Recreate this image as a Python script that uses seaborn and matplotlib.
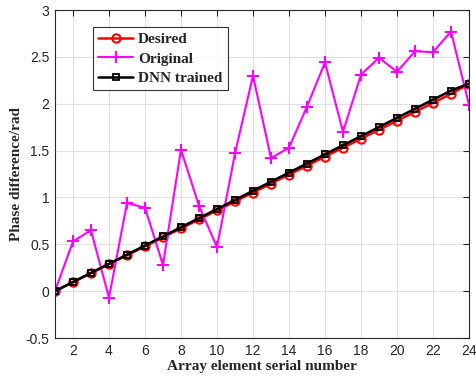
import matplotlib
matplotlib.use("Agg")
import matplotlib.pyplot as plt
import seaborn as sns
import numpy as np
import pandas as pd

elements = list(range(1, 25))
desired = [0.000, 0.096, 0.191, 0.287, 0.383, 0.478, 0.574, 0.670, 0.765, 0.861, 0.957, 1.052,
           1.148, 1.244, 1.339, 1.435, 1.531, 1.626, 1.722, 1.818, 1.913, 2.009, 2.105, 2.210]
original = [0.00, 0.53, 0.65, -0.07, 0.94, 0.89, 0.28, 1.51, 0.91, 0.47, 1.47, 2.30,
            1.42, 1.53, 1.97, 2.44, 1.70, 2.31, 2.49, 2.34, 2.56, 2.55, 2.77, 1.99]
dnn = [0.000, 0.098, 0.195, 0.292, 0.390, 0.487, 0.584, 0.682, 0.779, 0.876, 0.973, 1.071,
       1.168, 1.265, 1.362, 1.460, 1.557, 1.654, 1.751, 1.849, 1.946, 2.043, 2.140, 2.215]
xticks = list(range(2, 25, 2))
yticks = [-0.5, 0, 0.5, 1, 1.5, 2, 2.5, 3]
ytick_labels = ["-0.5", "0", "0.5", "1", "1.5", "2", "2.5", "3"]

sns.set_style("whitegrid")
plt.rcParams['font.family'] = ['Liberation Sans', 'DejaVu Sans']

fig = plt.figure(figsize=(4.77, 3.82), dpi=100)
ax = fig.add_axes([55/477, 1 - 338/382, (469-55)/477, (338-10)/382])

df = pd.DataFrame({"x": elements, "Desired": desired, "Original": original, "DNN trained": dnn})

sns.lineplot(data=df, x="x", y="Desired", ax=ax, color="red", lw=1.8, marker="o",
             markersize=6, markerfacecolor="none", markeredgecolor="red", markeredgewidth=1.5,
             label="Desired")
sns.lineplot(data=df, x="x", y="Original", ax=ax, color="magenta", lw=1.5, marker="+",
             markersize=8, markeredgecolor="magenta", markeredgewidth=1.5, label="Original")
sns.lineplot(data=df, x="x", y="DNN trained", ax=ax, color="black", lw=1.8, marker="s",
             markersize=5, markerfacecolor="none", markeredgecolor="black", markeredgewidth=1.3,
             label="DNN trained")

ax.set_xlim(1, 24)
ax.set_ylim(-0.5, 3)
ax.set_xticks(xticks)
ax.set_yticks(yticks)
ax.set_yticklabels(ytick_labels)
ax.grid(True, color="#e0e0e0", lw=0.8)
for s in ax.spines.values():
    s.set_color("#262626")
    s.set_linewidth(0.8)
ax.tick_params(axis="both", direction="in", length=4, width=0.8, colors="#262626",
               labelsize=10, top=True, right=True, labelcolor="#262626", pad=4)

ax.set_xlabel("Array element serial number", fontfamily="Liberation Serif",
              fontweight="bold", fontsize=11, labelpad=2)
ax.set_ylabel("Phase difference/rad", fontfamily="Liberation Serif",
              fontweight="bold", fontsize=11, labelpad=2)

leg = ax.legend(loc="upper left", bbox_to_anchor=(93/477, 1 - 27/382),
                bbox_transform=fig.transFigure, frameon=True, fancybox=False,
                prop={"family": "Liberation Serif", "weight": "bold", "size": 11},
                handlelength=2.3, handletextpad=0.3, borderpad=0.35, labelspacing=0.38,
                borderaxespad=0)
leg.get_frame().set_edgecolor("black")
leg.get_frame().set_linewidth(0.8)

fig.savefig("out.png", dpi=100)
